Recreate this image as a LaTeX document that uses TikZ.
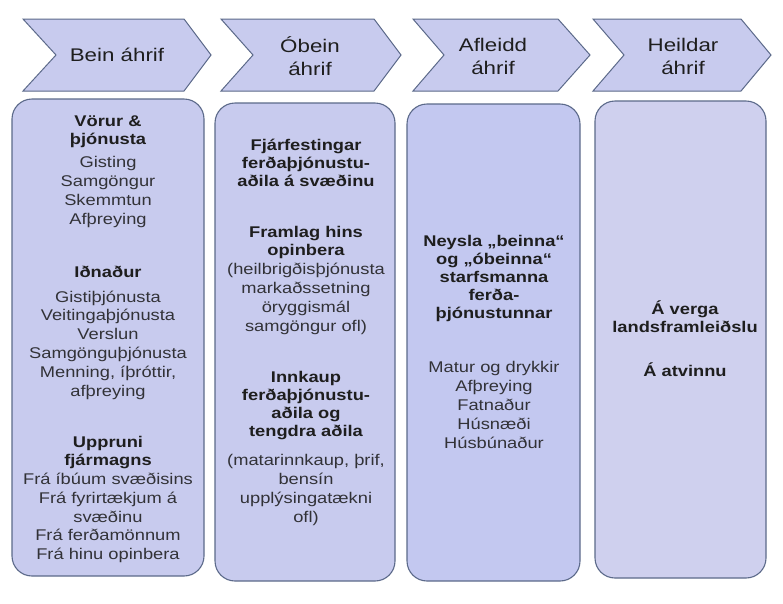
\documentclass[tikz,border=0pt]{standalone}
\usepackage{fontspec}
\setmainfont[FakeStretch=1.18]{Liberation Sans}
\newfontfamily\headfont[FakeStretch=1.22]{Liberation Sans}
\definecolor{boxfill}{RGB}{200,203,238}
\definecolor{boxfillb}{RGB}{195,200,240}
\definecolor{boxfillc}{RGB}{207,208,238}
\definecolor{boxdraw}{RGB}{92,106,138}
\definecolor{txt}{RGB}{30,30,30}
\definecolor{rtxt}{RGB}{50,50,55}
\tikzset{
  chev/.style={fill=boxfill, draw=boxdraw, line width=1pt, line join=miter},
  colbox/.style={fill=boxfill, draw=boxdraw, line width=1.1pt, rounded corners=20pt, inner sep=0pt},
  head/.style={font=\headfont\fontsize{18.3}{23}\selectfont, align=center, text=txt, inner sep=0pt},
  bt/.style={font=\bfseries\fontsize{15.5}{18}\selectfont, align=center, text=txt, inner sep=0pt},
  rt/.style={font=\fontsize{15.5}{18.8}\selectfont, align=center, text=rtxt, inner sep=0pt},
}
\begin{document}
\begin{tikzpicture}[x=1pt,y=-1pt]
\useasboundingbox[fill=white] (0,0) rectangle (783,603);
% chevrons
\draw[chev] (23,19) -- (184,19) -- (211,55) -- (184,91) -- (23,91) -- (56,55) -- cycle;
\draw[chev] (221,19) -- (374,19) -- (401,55) -- (374,91) -- (221,91) -- (253,55) -- cycle;
\draw[chev] (413,19) -- (558,19) -- (590,55) -- (558,91) -- (413,91) -- (444,55) -- cycle;
\draw[chev] (593,19) -- (741,19) -- (771,55) -- (741,91) -- (593,91) -- (624,55) -- cycle;
\node[head] (h1) at (117,55) {Bein áhrif};
\node[head] (h2) at (310,56.5) {Óbein\\áhrif};
\node[head] (h3) at (493,56.5) {Afleidd\\áhrif};
\node[head] (h4) at (683,56.5) {Heildar\\áhrif};
% column boxes
\node[colbox, minimum width=192pt, minimum height=477pt] (b1) at (108,337.5) {};
\node[colbox, minimum width=180pt, minimum height=478pt] (b2) at (305,342) {};
\node[colbox, fill=boxfillb, minimum width=173pt, minimum height=477pt] (b3) at (493.5,342.5) {};
\node[colbox, fill=boxfillc, minimum width=171pt, minimum height=477pt] (b4) at (680.5,339.5) {};
% column 1
\node[bt] (c1a) at (108,132) {Vörur \&\\þjónusta};
\node[rt] (c1b) at (108,192) {Gisting\\Samgöngur\\Skemmtun\\Afþreying};
\node[bt] (c1c) at (108,272) {Iðnaður};
\node[rt] (c1d) at (108,345) {Gistiþjónusta\\Veitingaþjónusta\\Verslun\\Samgönguþjónusta\\Menning, íþróttir,\\afþreying};
\node[bt] (c1e) at (108,453) {Uppruni\\fjármagns};
\node[rt] (c1f) at (108,518) {Frá íbúum svæðisins\\Frá fyrirtækjum á\\svæðinu\\Frá ferðamönnum\\Frá hinu opinbera};
% column 2
\node[bt] (c2a) at (306,163) {Fjárfestingar\\ferðaþjónustu-\\aðila á svæðinu};
\node[bt] (c2b) at (306,242) {Framlag hins\\opinbera};
\node[rt] (c2c) at (306,299) {(heilbrigðisþjónusta\\markaðssetning\\öryggismál\\samgöngur ofl)};
\node[bt] (c2d) at (306,406) {Innkaup\\ferðaþjónustu-\\aðila og\\tengdra aðila};
\node[rt] (c2e) at (306,490) {(matarinnkaup, þrif,\\bensín\\upplýsingatækni\\ofl)};
% column 3
\node[bt] (c3a) at (494,278) {Neysla „beinna“\\og „óbeinna“\\starfsmanna\\ferða-\\þjónustunnar};
\node[rt] (c3b) at (494,405) {Matur og drykkir\\Afþreying\\Fatnaður\\Húsnæði\\Húsbúnaður};
% column 4
\node[bt] (c4a) at (685,317) {Á verga\\landsframleiðslu};
\node[bt] (c4b) at (685,370) {Á atvinnu};
\end{tikzpicture}
\end{document}
